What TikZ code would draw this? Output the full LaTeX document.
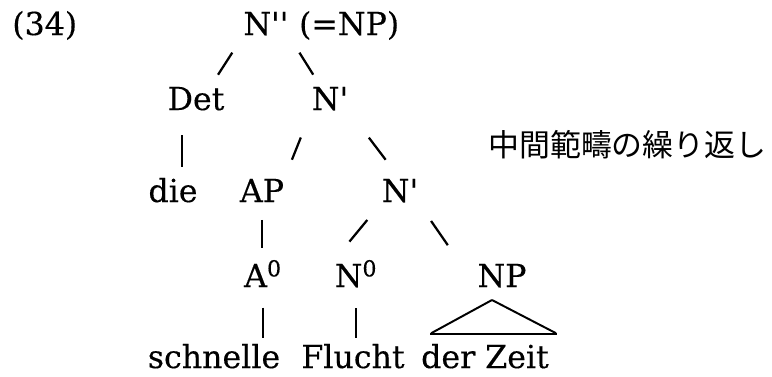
\documentclass[tikz,border=0pt]{standalone}
\usepackage{fontspec}
\usepackage{tikz}
\usetikzlibrary{calc}
\setmainfont{DejaVu Serif}[FakeBold=0.3]
\newfontfamily\jpfont{Noto Sans CJK JP}
\newcommand{\apo}{\textquotesingle}

\tikzset{
  word/.style={font=\fontsize{22.5}{26}\selectfont, inner sep=0pt, anchor=base},
  branch/.style 2 args={line width=1.6pt, shorten <=#1, shorten >=#2},
  roof/.style={line width=1.4pt}
}

\begin{document}
\begin{tikzpicture}
			\useasboundingbox (0,0) rectangle (19.3,-9.4);
			% Vẽ nút
			\node[word, anchor=base west] (ex) at (0.3,-0.875) {(34)};
			\node[word] (n2) at (6.65,-0.875) {N\apo\apo};
			\node[word, anchor=base west] (eqnp) at ([xshift=0.25cm]n2.base east) {(=NP)};
			\node[word] (det) at (4.9,-2.75) {Det};
			\node[word] (nb) at (8.25,-2.75) {N\apo};
			\node[word] (die) at (4.325,-5.05) {die};
			\node[word] (ap) at (6.55,-5.05) {AP};
			\node[word] (nc) at (10.0,-5.05) {N\apo};
			\node[word] (a0) at (6.575,-7.175) {A\textsuperscript{0}};
			\node[word] (n0) at (8.9,-7.175) {N\textsuperscript{0}};
			\node[word] (np) at (12.55,-7.175) {NP};
			\node[word] (schnelle) at (5.35,-9.2) {schnelle};
			\node[word] (flucht) at (8.825,-9.2) {Flucht};
			\node[word] (zeit) at (12.125,-9.2) {der Zeit};
			\node[anchor=west, inner sep=0pt, font=\jpfont\fontsize{22}{26}\selectfont] (rep) at (12.2,-3.625) {中間範疇の繰り返し};
			% Vẽ nhánh
			\draw[branch={14.3pt}{10.1pt}] (n2.south west) -- ($(det.north)!.5!(det.north east)$);
			\draw[branch={14.2pt}{10.1pt}] (n2.south east) -- ($(nb.north)!.5!(nb.north west)$);
			\coordinate (detbar) at ($(det.south)!.5!(det.south west)$);
			\draw[branch={17.5pt}{7.5pt}] (detbar) -- (detbar |- die.north);
			\draw[branch={20.5pt}{14.5pt}] (nb.south west) -- (ap.north east);
			\draw[branch={24pt}{16.9pt}] (nb.south east) -- (nc.north);
			\draw[branch={12.5pt}{8.5pt}] (ap.south) -- (ap.south |- a0.north);
			\draw[branch={15.9pt}{16.7pt}] (nc.south west) -- (n0.north west);
			\draw[branch={15.8pt}{36.8pt}] (nc.south east) -- (np.south west);
			\draw[branch={14.5pt}{4.3pt}] (a0.south) -- (a0.south |- schnelle.north);
			\draw[branch={14.5pt}{4.3pt}] (n0.south) -- (n0.south |- flucht.north);
			% Vẽ tam giác
			\coordinate (tip) at (12.3,-7.5);
			\coordinate (rl) at (10.78,-8.33);
			\coordinate (rr) at (13.9,-8.33);
			\draw[roof] (tip) -- (rl) (tip) -- (rr);
			\draw[roof, line width=2pt] (10.75,-8.35) -- (13.925,-8.35);
\end{tikzpicture}
\end{document}
